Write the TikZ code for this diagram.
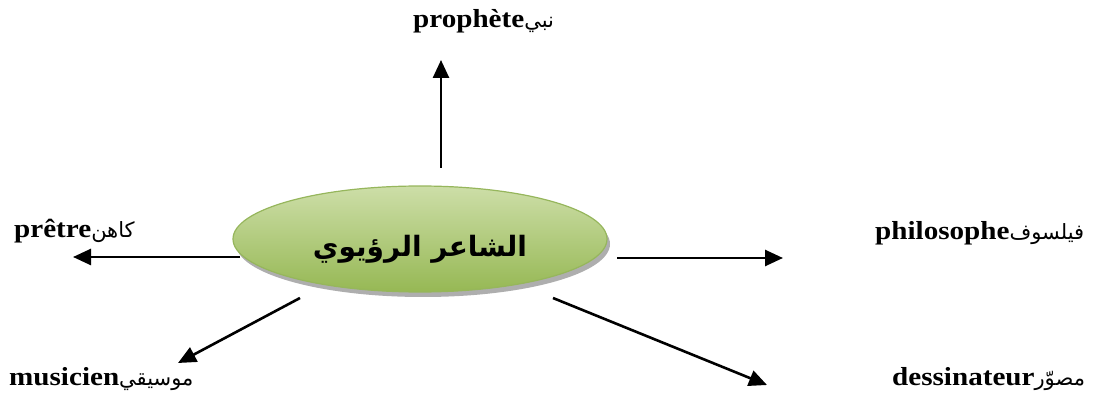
\documentclass[tikz,border=0pt]{standalone}
\usepackage{fontspec}
\usetikzlibrary{arrows.meta,shadows,shapes.geometric}
\TeXXeTstate=1
\setmainfont{Liberation Serif}
\newfontfamily\arabicfont[Script=Arabic]{DejaVu Sans}
\newfontfamily\latinlab[FakeStretch=1.12]{Liberation Serif}
\definecolor{eltop}{RGB}{205,222,168}
\definecolor{elbot}{RGB}{150,184,84}
\definecolor{eledge}{RGB}{150,182,92}
\tikzset{
  poetbox/.style={ellipse, minimum width=374pt, minimum height=106pt, inner sep=0pt,
    text height=40pt, text depth=4pt,
    top color=eltop, bottom color=elbot, draw=eledge, line width=1.2pt,
    drop shadow={shadow xshift=3pt, shadow yshift=-5pt, opacity=0.45, fill=black!70}},
  lab/.style={anchor=base west, inner sep=0pt},
  link/.style={line width=2.6pt, -{Triangle[length=18pt,width=16pt]}}
}
\newcommand{\termlab}[2]{{\latinlab\fontsize{26}{28}\selectfont\bfseries #1}{\arabicfont\fontsize{21}{23}\selectfont\beginR #2\endR}}
\begin{document}
\begin{tikzpicture}[x=1pt,y=-1pt]
  \useasboundingbox (0,0) rectangle (1096,398);
  % central ellipse with its title (baseline set a little below the centre)
  \node[poetbox] (poet) at (420,239)
    {\arabicfont\fontsize{28}{30}\selectfont\bfseries\beginR الشاعر الرؤيوي\endR};
  % labels
  \node[lab] (prophet) at (413,28) {\termlab{prophète}{نبي}};
  \node[lab] (priest) at (14,238) {\termlab{prêtre}{كاهن}};
  \node[lab] (philo) at (875,240) {\termlab{philosophe}{فيلسوف}};
  \node[lab] (musician) at (9,385) {\termlab{musicien}{موسيقي}};
  \node[lab] (painter) at (892,385) {\termlab{dessinateur}{\ مصوّر}};
  % arrow ends
  \coordinate (sUp) at (441,168);   \coordinate (eUp) at (441,60);
  \coordinate (sL) at (240,257);    \coordinate (eL) at (73,257);
  \coordinate (sR) at (617,258);    \coordinate (eR) at (783,258);
  \coordinate (sDL) at (300,298);   \coordinate (eDL) at (178,363);
  \coordinate (sDR) at (553,298);   \coordinate (eDR) at (767,385);
  \draw[link] (sUp) -- (eUp);
  \draw[link] (sL) -- (eL);
  \draw[link] (sR) -- (eR);
  \draw[link] (sDL) -- (eDL);
  \draw[link] (sDR) -- (eDR);
\end{tikzpicture}
\end{document}
